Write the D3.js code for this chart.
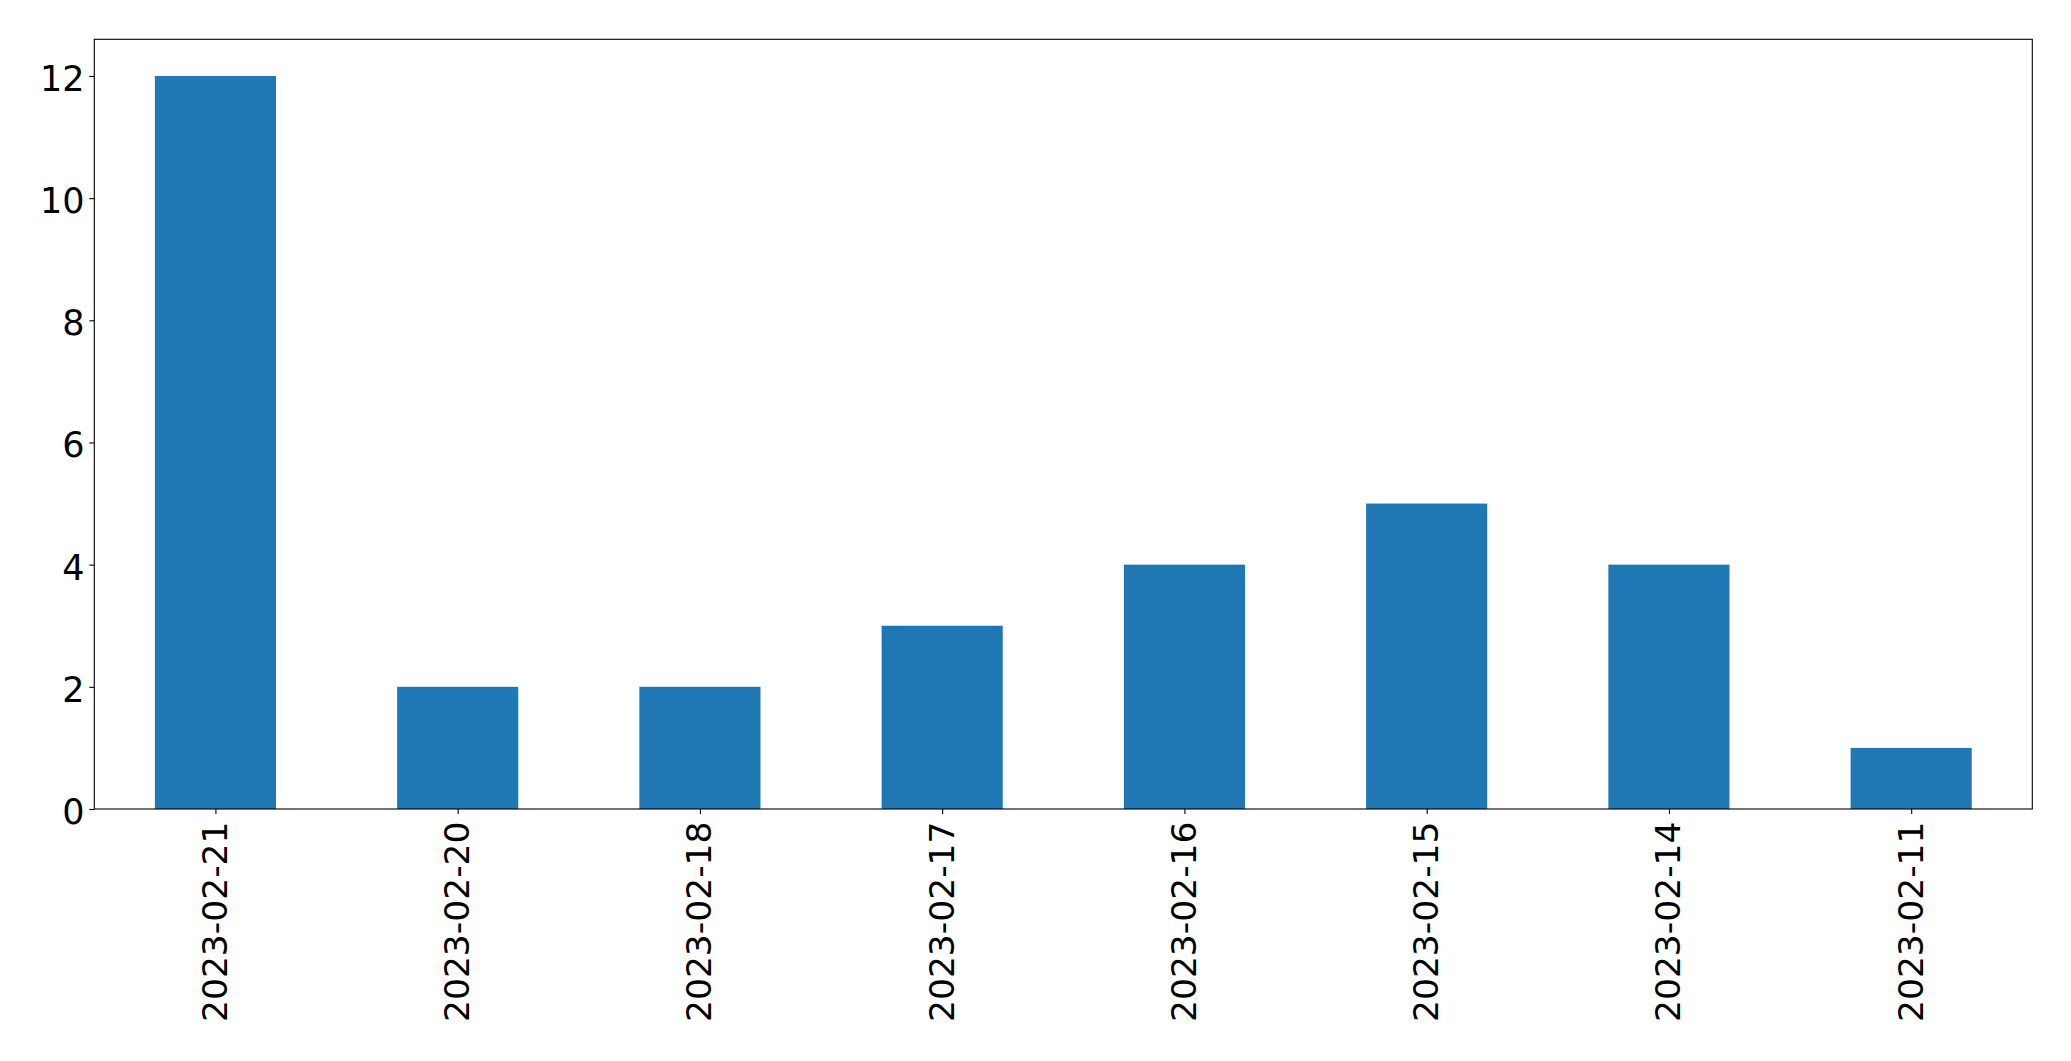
<!DOCTYPE html>
<html><head><meta charset="utf-8">
<script src="https://cdn.jsdelivr.net/npm/d3@7"></script>
<style>html,body{margin:0;padding:0;background:#fff;}</style>
</head><body>
<svg id="chart" width="2071" height="1061"></svg>
<script>
const categories = ["2023-02-21","2023-02-20","2023-02-18","2023-02-17","2023-02-16","2023-02-15","2023-02-14","2023-02-11"];
const values = [12, 2, 2, 3, 4, 5, 4, 1];
const yTicks = [0, 2, 4, 6, 8, 10, 12];

const W = 2071, H = 1061;
const m = {left: 94.3, right: 2071 - 2032.3, top: 39.3, bottom: 1061 - 809};
const svg = d3.select("#chart");
const iw = W - m.left - m.right, ih = H - m.top - m.bottom;
const g = svg.append("g").attr("transform", `translate(${m.left},${m.top})`);

const x = d3.scaleLinear().domain([-0.5, categories.length - 0.5]).range([0, iw]);
const y = d3.scaleLinear().domain([0, 12.6]).range([ih, 0]);
const bw = x(0.25) - x(-0.25);

g.selectAll("rect.bar").data(values).enter().append("rect")
  .attr("class","bar")
  .attr("x", (d,i) => x(i) - bw/2)
  .attr("width", bw)
  .attr("y", d => y(d))
  .attr("height", d => y(0) - y(d))
  .attr("fill", "#1f77b4");

const font = "DejaVu Sans, sans-serif";
const yAxis = d3.axisLeft(y).tickValues(yTicks).tickSize(5).tickPadding(4.8).tickFormat(d3.format("d"));
const ya = g.append("g").call(yAxis);
ya.select(".domain").remove();
ya.selectAll("text").attr("font-family", font).attr("font-size", "35px").attr("fill","#000").attr("dy","0.41em");
ya.selectAll("line").attr("stroke","#000").attr("stroke-width",1.1);

const xAxis = d3.axisBottom(x).tickValues(d3.range(categories.length)).tickSize(5).tickFormat(i => categories[i]);
const xa = g.append("g").attr("transform", `translate(0,${ih})`).call(xAxis);
xa.select(".domain").remove();
xa.selectAll("line").attr("stroke","#000").attr("stroke-width",1.1);
xa.selectAll("text")
  .attr("font-family", font).attr("font-size", "34.5px").attr("fill","#000")
  .attr("transform", "rotate(-90)")
  .attr("text-anchor", "end")
  .attr("x", -12.5).attr("y", 0).attr("dy", "0.32em");

g.append("rect").attr("x",0).attr("y",0).attr("width",iw).attr("height",ih)
  .attr("fill","none").attr("stroke","#000").attr("stroke-width",1.1);
</script>
</body></html>
